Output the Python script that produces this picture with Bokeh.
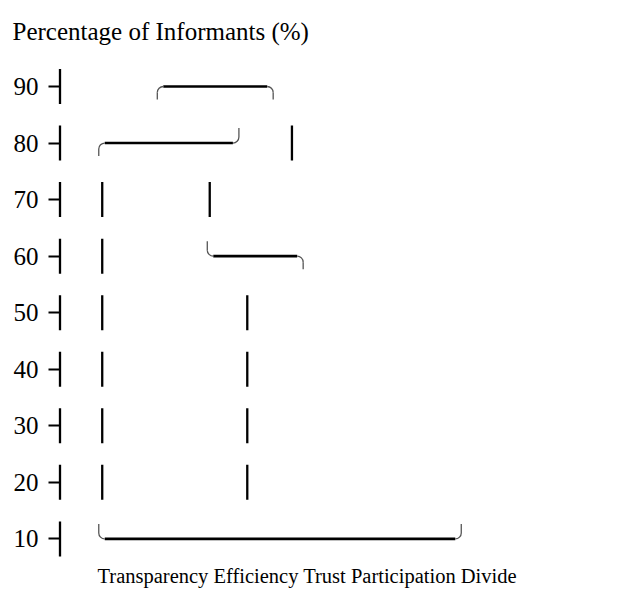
from bokeh.plotting import figure
from bokeh.models import Range1d, FixedTicker, Title, Label
from bokeh.core.properties import value
from bokeh.embed import file_html
from bokeh.resources import INLINE
import math

# ---- data (text-art chart: rows are percentage levels, columns are character cells)
y_ticks = [10, 20, 30, 40, 50, 60, 70, 80, 90]
categories = ["Transparency", "Efficiency", "Trust", "Participation", "Divide"]
title_text = "Percentage of Informants (%)"

# horizontal runs: row level, start cell, end cell, opening corner, closing corner
run_row = [90, 80, 60, 10]
run_start = [4.77, 1.90, 7.22, 1.90]
run_end = [10.45, 8.77, 11.92, 19.67]
run_open = ["╭", "╭", "╰", "╰"]
run_close = ["╮", "╯", "╮", "╯"]

# single vertical strokes "│": row level and cell
bar_row = [80, 70, 70, 60, 50, 50, 40, 40, 30, 30, 20, 20]
bar_col = [11.37, 2.07, 7.34, 2.07, 2.07, 9.18, 2.07, 9.18, 2.07, 9.18, 2.07, 9.18]

# ---- layout helpers
FONT = "Liberation Serif"
W, H = 624, 590
PX_Y = 5.655          # pixels per percentage point
CELL = 20.4           # pixels per character cell
TOP = 50              # space above frame (title)
LEFT = 48             # space left of frame (axis labels)
ROW90_PAGE = 94.0     # page y of the 90 row
AXIS_PAGE_X = 67.5

frame_top_page = 8 + TOP
y_hi = 90 + (ROW90_PAGE - frame_top_page) / PX_Y
y_lo = 90 - (8 + H - ROW90_PAGE) / PX_Y
x_lo = (8 + LEFT - AXIS_PAGE_X) / CELL
x_hi = (8 + W - AXIS_PAGE_X) / CELL

p = figure(width=W, height=H, x_range=Range1d(x_lo, x_hi), y_range=Range1d(y_lo, y_hi),
           output_backend="svg", toolbar_location=None, x_axis_location=None,
           min_border_left=LEFT, min_border_right=0, min_border_top=TOP, min_border_bottom=0)
p.outline_line_color = None
p.grid.visible = False
p.background_fill_color = "white"
p.border_fill_color = "white"

p.title = Title(text=title_text, align="left", offset=-36, text_font=FONT,
                text_font_size="25px", text_font_style="normal", text_color="black", standoff=11)

ax = p.yaxis[0]
ax.ticker = FixedTicker(ticks=y_ticks)
ax.axis_line_color = None
ax.major_tick_in = 12
ax.major_tick_out = 0
ax.major_tick_line_width = 2
ax.major_tick_line_color = "black"
ax.minor_tick_line_color = None
ax.major_label_standoff = 10
ax.major_label_text_font = FONT
ax.major_label_text_font_size = "25px"
ax.major_label_text_color = "black"

half = 17.5 / PX_Y
# axis "┤" vertical pieces
p.segment(x0=[0] * len(y_ticks), x1=[0] * len(y_ticks),
          y0=[v - half for v in y_ticks], y1=[v + half for v in y_ticks],
          line_width=2.3, line_color="black")

# "│" strokes
p.segment(x0=bar_col, x1=bar_col, y0=[v - half for v in bar_row], y1=[v + half for v in bar_row],
          line_width=2.3, line_color="black")

# runs with rounded corners
rx, ry = 6 / CELL, 6 / PX_Y
down, up = 13 / PX_Y, 15 / PX_Y
hx0, hx1, hy = [], [], []
cvx, cvy0, cvy1 = [], [], []
ax_, ay_, a0, a1 = [], [], [], []
for row, xs, xe, op, cl in zip(run_row, run_start, run_end, run_open, run_close):
    hx0.append(xs + rx); hx1.append(xe - rx); hy.append(row)
    if op == "╭":
        cvx.append(xs); cvy0.append(row - ry); cvy1.append(row - down)
        ax_.append(xs + rx); ay_.append(row - ry); a0.append(math.pi / 2); a1.append(math.pi)
    else:
        cvx.append(xs); cvy0.append(row + ry); cvy1.append(row + up)
        ax_.append(xs + rx); ay_.append(row + ry); a0.append(math.pi); a1.append(1.5 * math.pi)
    if cl == "╮":
        cvx.append(xe); cvy0.append(row - ry); cvy1.append(row - down)
        ax_.append(xe - rx); ay_.append(row - ry); a0.append(0); a1.append(math.pi / 2)
    else:
        cvx.append(xe); cvy0.append(row + ry); cvy1.append(row + up)
        ax_.append(xe - rx); ay_.append(row + ry); a0.append(1.5 * math.pi); a1.append(2 * math.pi)

p.segment(x0=hx0, x1=hx1, y0=hy, y1=hy, line_width=2.6, line_color="black")
p.segment(x0=cvx, x1=cvx, y0=cvy0, y1=cvy1, line_width=1.3, line_color="#555555")
p.arc(x=ax_, y=ay_, radius=6, radius_units="screen", start_angle=a0, end_angle=a1,
      line_width=1.3, line_color="#555555")

# bottom category line (annotation, so it is not clipped by the frame)
label_y = 90 - (583 - ROW90_PAGE) / PX_Y
p.add_layout(Label(x=(105 - AXIS_PAGE_X) / CELL, y=label_y, text=" ".join(categories),
                   text_font=FONT, text_font_size="20.5px", text_baseline="alphabetic",
                   text_align="left", text_color="black"))

open("out.html", "w").write(file_html(p, INLINE))
